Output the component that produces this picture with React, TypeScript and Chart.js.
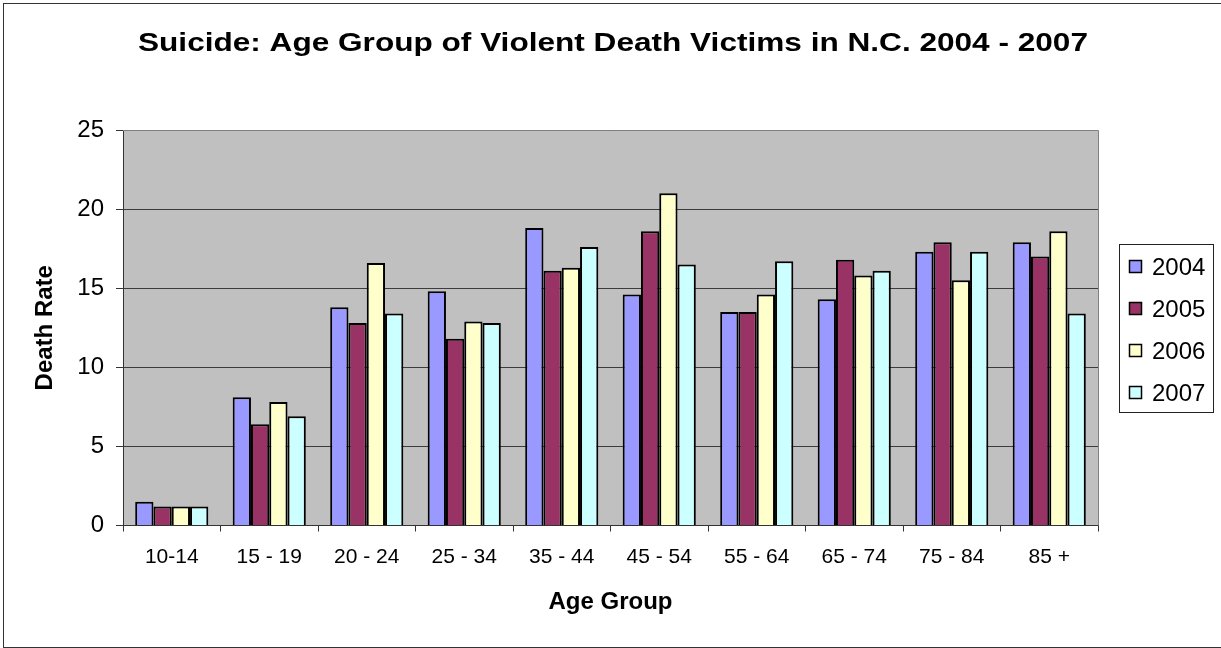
import React, { useEffect, useRef } from 'react';
import { Chart, registerables } from 'chart.js';

Chart.register(...registerables);

const categories = ['10-14', '15 - 19', '20 - 24', '25 - 34', '35 - 44', '45 - 54', '55 - 64', '65 - 74', '75 - 84', '85 +'];
const seriesLabels = ['2004', '2005', '2006', '2007'];
const values2004 = [1.5, 8.1, 13.8, 14.8, 18.8, 14.6, 13.5, 14.3, 17.3, 17.9];
const values2005 = [1.2, 6.4, 12.8, 11.8, 16.1, 18.6, 13.5, 16.8, 17.9, 17.0];
const values2006 = [1.2, 7.8, 16.6, 12.9, 16.3, 21.0, 14.6, 15.8, 15.5, 18.6];
const values2007 = [1.2, 6.9, 13.4, 12.8, 17.6, 16.5, 16.7, 16.1, 17.3, 13.4];
const seriesColors = ['#9999FF', '#993366', '#FFFFCC', '#CCFFFF'];
const yMin = 0;
const yMax = 25;
const yStep = 5;
const titleText = 'Suicide: Age Group of Violent Death Victims in N.C. 2004 - 2007';
const xTitle = 'Age Group';
const yTitle = 'Death Rate';

const FONT = '"Liberation Sans", Arial, sans-serif';

const decorPlugin = {
  id: 'decor',
  beforeDraw(chart: any) {
    const { ctx, chartArea } = chart;
    ctx.save();
    ctx.fillStyle = '#ffffff';
    ctx.fillRect(0, 0, chart.width, chart.height);
    ctx.strokeStyle = '#333333';
    ctx.lineWidth = 1;
    ctx.strokeRect(3.5, 3.5, chart.width + 10, 644);
    ctx.fillStyle = '#C0C0C0';
    ctx.fillRect(chartArea.left, chartArea.top, chartArea.right - chartArea.left, chartArea.bottom - chartArea.top);
    ctx.restore();
  },
  afterDatasetsDraw(chart: any) {
    const { ctx, chartArea } = chart;
    ctx.save();
    ctx.strokeStyle = '#808080';
    ctx.lineWidth = 1;
    ctx.beginPath();
    ctx.moveTo(chartArea.left, Math.round(chartArea.top) + 0.5);
    ctx.lineTo(Math.round(chartArea.right) + 0.5, Math.round(chartArea.top) + 0.5);
    ctx.lineTo(Math.round(chartArea.right) + 0.5, chartArea.bottom);
    ctx.stroke();
    ctx.restore();
  },
  afterDraw(chart: any) {
    const { ctx } = chart;
    ctx.save();
    // Title (stretched horizontally like the original)
    ctx.font = `bold 26px ${FONT}`;
    ctx.fillStyle = '#000000';
    ctx.textBaseline = 'alphabetic';
    ctx.textAlign = 'center';
    const w = ctx.measureText(titleText).width;
    const sx = 950 / w;
    ctx.translate(613, 51);
    ctx.scale(sx, 1);
    ctx.fillText(titleText, 0, 0);
    ctx.restore();

    // Legend
    ctx.save();
    ctx.fillStyle = '#ffffff';
    ctx.fillRect(1119, 244, 94, 168);
    ctx.strokeStyle = '#222222';
    ctx.lineWidth = 1;
    ctx.strokeRect(1119.5, 244.5, 94, 168);
    ctx.font = `24px ${FONT}`;
    ctx.textAlign = 'left';
    ctx.textBaseline = 'alphabetic';
    chart.data.datasets.forEach((ds: any, i: number) => {
      const y = 260 + i * 42;
      ctx.fillStyle = ds.backgroundColor;
      ctx.fillRect(1129, y, 13, 13);
      ctx.strokeStyle = '#000000';
      ctx.lineWidth = 1.5;
      ctx.strokeRect(1129.5, y + 0.5, 12, 12);
      ctx.fillStyle = '#000000';
      ctx.fillText(ds.label, 1152, y + 15);
    });
    ctx.restore();
  },
};

export default function App() {
  const canvasRef = useRef<HTMLCanvasElement | null>(null);

  useEffect(() => {
    if (!canvasRef.current) return;
    const seriesValues = [values2004, values2005, values2006, values2007];
    const chart = new Chart(canvasRef.current, {
      type: 'bar',
      data: {
        labels: categories,
        datasets: seriesLabels.map((label, i) => ({
          label,
          data: seriesValues[i],
          backgroundColor: seriesColors[i],
          borderColor: '#000000',
          borderWidth: 2,
          categoryPercentage: 0.75,
          barPercentage: 1.0,
        })),
      },
      options: {
        responsive: false,
        animation: false,
        devicePixelRatio: 1,
        layout: { padding: { left: 0, top: 130, right: 123, bottom: 0 } },
        plugins: {
          legend: { display: false },
          title: { display: false },
          tooltip: { enabled: false },
        },
        scales: {
          x: {
            afterFit: (scale: any) => {
              scale.height = 122.5;
            },
            grid: {
              drawOnChartArea: false,
              drawTicks: true,
              tickLength: 6,
              tickColor: '#333333',
              offset: true,
            },
            border: { display: true, color: '#333333', width: 1 },
            ticks: {
              color: '#000000',
              font: { family: FONT, size: 21 },
              padding: 13,
              maxRotation: 0,
              autoSkip: false,
            },
            title: {
              display: true,
              text: xTitle,
              color: '#000000',
              font: { family: FONT, size: 24, weight: 'bold' },
              padding: { top: 0, bottom: 31 },
            },
          },
          y: {
            min: yMin,
            max: yMax,
            afterFit: (scale: any) => {
              scale.width = 123;
            },
            grid: {
              color: '#3c3c3c',
              lineWidth: 1,
              drawTicks: true,
              tickLength: 7,
              tickColor: '#333333',
            },
            border: { display: true, color: '#333333', width: 1 },
            ticks: {
              stepSize: yStep,
              color: '#000000',
              font: { family: FONT, size: 24 },
              padding: 12,
            },
            title: {
              display: true,
              text: yTitle,
              color: '#000000',
              font: { family: FONT, size: 24, weight: 'bold' },
              padding: { top: 31, bottom: 0 },
            },
          },
        },
      },
      plugins: [decorPlugin],
    } as any);
    return () => chart.destroy();
  }, []);

  return (
    <div style={{ position: 'fixed', left: 0, top: 0, width: 1221, height: 648, background: '#ffffff' }}>
      <canvas ref={canvasRef} width={1221} height={648} style={{ display: 'block', width: 1221, height: 648 }} />
    </div>
  );
}
